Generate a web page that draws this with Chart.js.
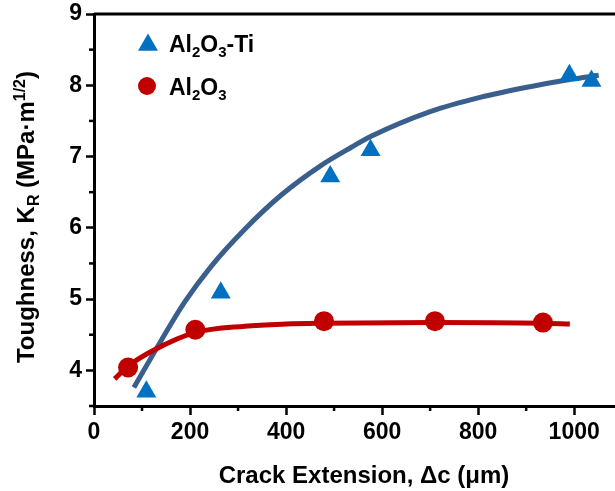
<!DOCTYPE html>
<html>
<head>
<meta charset="utf-8">
<script src="https://cdn.jsdelivr.net/npm/chart.js@4.4.1/dist/chart.umd.min.js"></script>
<style>
  html, body { margin: 0; padding: 0; background: #fff; }
  #wrap { width: 615px; height: 491px; }
</style>
</head>
<body>
<div id="wrap"><canvas id="chart"></canvas></div>
<script>
const tiX = [109, 264, 492, 576, 990, 1036];
const tiY = [3.70, 5.09, 6.72, 7.09, 8.14, 8.06];
const alX = [71, 211, 479, 710, 935];
const alY = [4.04, 4.57, 4.69, 4.69, 4.67];

// fitted curves
const tiFitX = [83, 140, 189, 244, 314, 390, 474, 536, 576, 700, 804, 908, 991, 1051];
const tiFitY = [3.76, 4.42, 4.96, 5.46, 5.98, 6.46, 6.88, 7.13, 7.28, 7.63, 7.83, 7.98, 8.08, 8.14];
const alFitX = [43, 71, 126, 210, 314, 400, 474, 706, 935, 991];
const alFitY = [3.88, 4.06, 4.29, 4.53, 4.62, 4.65, 4.66, 4.67, 4.66, 4.65];

// axis ticks
const xTicks = [0, 200, 400, 600, 800, 1000];
const xMinor = [100, 300, 500, 700, 900];
const yTicks = [4, 5, 6, 7, 8, 9];
const yMinor = [3.5, 4.5, 5.5, 6.5, 7.5, 8.5];

const FONT = '"Liberation Sans", Arial, sans-serif';
const BLUE_PT = '#0070c0';
const BLUE_LN = '#3a5f8c';
const RED = '#c00000';

function pts(xs, ys) {
  return xs.map((x, i) => ({ x: x, y: ys[i] }));
}

// draw text made of pieces, some as subscript / superscript
function drawRich(ctx, parts, x, y, size, align) {
  const small = Math.round(size * 0.65);
  let total = 0;
  parts.forEach(p => {
    ctx.font = 'bold ' + (p.t ? small : size) + 'px ' + FONT;
    p.w = ctx.measureText(p.s).width;
    total += p.w;
  });
  let cx = align === 'center' ? x - total / 2 : x;
  ctx.textAlign = 'left';
  ctx.textBaseline = 'alphabetic';
  parts.forEach(p => {
    ctx.font = 'bold ' + (p.t ? small : size) + 'px ' + FONT;
    let dy = 0;
    if (p.t === 'sub') dy = size * 0.22;
    if (p.t === 'sup') dy = -size * 0.38;
    ctx.fillText(p.s, cx, y + dy);
    cx += p.w;
  });
}

const extras = {
  id: 'extras',
  afterDraw(chart) {
    const ctx = chart.ctx;
    const a = chart.chartArea;
    const xs = chart.scales.x, ys = chart.scales.y;
    ctx.save();
    ctx.strokeStyle = '#000';
    ctx.fillStyle = '#000';

    // top frame line
    ctx.lineWidth = 3;
    ctx.beginPath();
    ctx.moveTo(a.left, a.top);
    ctx.lineTo(a.right, a.top);
    ctx.stroke();

    // minor ticks
    ctx.lineWidth = 2.5;
    xMinor.forEach(v => {
      const px = xs.getPixelForValue(v);
      ctx.beginPath();
      ctx.moveTo(px, a.bottom);
      ctx.lineTo(px, a.bottom + 5);
      ctx.stroke();
    });
    yMinor.forEach(v => {
      const py = ys.getPixelForValue(v);
      ctx.beginPath();
      ctx.moveTo(a.left, py);
      ctx.lineTo(a.left - 5, py);
      ctx.stroke();
    });

    // axis titles
    ctx.font = 'bold 24px ' + FONT;
    ctx.textAlign = 'center';
    ctx.textBaseline = 'alphabetic';
    ctx.fillText('Crack Extension, \u0394c (\u03bcm)', 364, 483);

    ctx.save();
    ctx.translate(34, 217);
    ctx.rotate(-Math.PI / 2);
    drawRich(ctx, [
      { s: 'Toughness, K' }, { s: 'R', t: 'sub' }, { s: ' (MPa\u00b7m' },
      { s: '1/2', t: 'sup' }, { s: ')' }
    ], 0, 0, 24, 'center');
    ctx.restore();

    // legend
    ctx.fillStyle = BLUE_PT;
    const tx = 148, ty = 45, r = 11.5;
    ctx.beginPath();
    ctx.moveTo(tx, ty - r);
    ctx.lineTo(tx + r * Math.sin(2 * Math.PI / 3), ty + r / 2);
    ctx.lineTo(tx - r * Math.sin(2 * Math.PI / 3), ty + r / 2);
    ctx.closePath();
    ctx.fill();
    ctx.fillStyle = RED;
    ctx.beginPath();
    ctx.arc(147, 86, 9, 0, Math.PI * 2);
    ctx.fill();

    ctx.fillStyle = '#000';
    drawRich(ctx, [{ s: 'Al' }, { s: '2', t: 'sub' }, { s: 'O' }, { s: '3', t: 'sub' }, { s: '-Ti' }], 169, 52, 23, 'left');
    drawRich(ctx, [{ s: 'Al' }, { s: '2', t: 'sub' }, { s: 'O' }, { s: '3', t: 'sub' }], 169, 95, 23, 'left');
    ctx.restore();
  }
};

const ctx = document.getElementById('chart').getContext('2d');
const chart = new Chart(ctx, {
  type: 'scatter',
  data: {
    datasets: [
      {
        label: 'Al2O3-Ti',
        data: pts(tiX, tiY),
        pointStyle: 'triangle',
        pointRadius: 11.5,
        backgroundColor: BLUE_PT,
        borderWidth: 0,
        order: 1
      },
      {
        label: 'Al2O3',
        data: pts(alX, alY),
        pointStyle: 'circle',
        pointRadius: 10,
        backgroundColor: RED,
        borderWidth: 0,
        order: 1
      },
      {
        label: 'Al2O3 fit',
        data: pts(alFitX, alFitY),
        showLine: true,
        pointRadius: 0,
        borderColor: RED,
        borderWidth: 5,
        cubicInterpolationMode: 'monotone',
        order: 2
      },
      {
        label: 'Al2O3-Ti fit',
        data: pts(tiFitX, tiFitY),
        showLine: true,
        pointRadius: 0,
        borderColor: BLUE_LN,
        borderWidth: 5,
        cubicInterpolationMode: 'monotone',
        order: 3
      }
    ]
  },
  options: {
    responsive: true,
    maintainAspectRatio: false,
    animation: false,
    layout: { autoPadding: false, padding: { top: 14, right: 0, left: 0, bottom: 0 } },
    plugins: {
      legend: { display: false },
      tooltip: { enabled: false }
    },
    scales: {
      x: {
        type: 'linear',
        min: 0,
        max: 1085,
        afterBuildTicks: s => { s.ticks = xTicks.map(v => ({ value: v })); },
        afterFit: s => { s.height = 85; s.paddingLeft = 0; s.paddingRight = 0; },
        grid: { drawOnChartArea: false, tickLength: 9, tickWidth: 2.5, tickColor: '#000' },
        border: { color: '#000', width: 3 },
        ticks: {
          color: '#000', font: { family: FONT, size: 23, weight: 'bold' }, padding: 4,
          maxRotation: 0, autoSkip: false, callback: v => String(v)
        }
      },
      y: {
        type: 'linear',
        min: 3.5,
        max: 9,
        afterBuildTicks: s => { s.ticks = yTicks.map(v => ({ value: v })); },
        afterFit: s => { s.width = 94; s.paddingTop = 0; s.paddingBottom = 0; },
        grid: { drawOnChartArea: false, tickLength: 8, tickWidth: 2.5, tickColor: '#000' },
        border: { color: '#000', width: 3 },
        ticks: { color: '#000', font: { family: FONT, size: 23, weight: 'bold' }, padding: 4, autoSkip: false }
      }
    }
  },
  plugins: [extras]
});
</script>
</body>
</html>
